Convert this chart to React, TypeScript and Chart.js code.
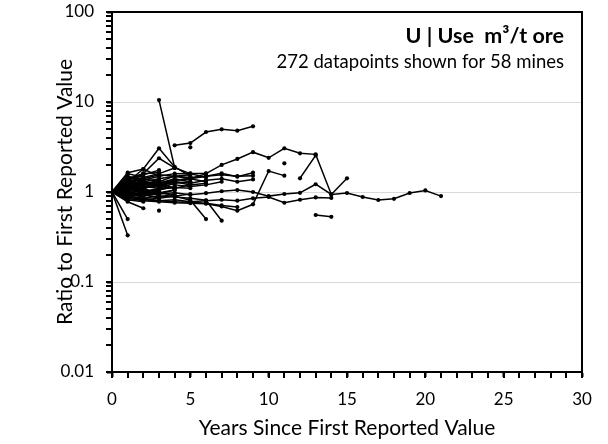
import React, { useEffect, useRef } from "react";
import { Chart, registerables } from "chart.js";

Chart.register(...registerables);

const FONT = "Lato, 'Open Sans', sans-serif";

// Ratio to first reported value, indexed by years since first report (null = not reported)
const mineLong = [1, 0.95, 0.92, 0.95, 0.98, 0.93, 0.97, 1.02, 1.05, 1.0, 0.9, 0.95, 0.98, 1.22, 0.94, 0.975, 0.88, 0.815, 0.84, 0.975, 1.04, 0.9];
const mineL2 = [1, 0.9, 0.85, 0.8, 0.82, 0.78, 0.8, 0.82, 0.8, 0.85, 0.88, 0.76, 0.82, 0.87, 0.86];
const mineU = [1, 1.2, 1.1, 1.3, 1.5, 1.4, 1.6, 2.0, 2.33, 2.77, 2.4, 3.06, 2.69, 2.62, 0.94, 1.42];
const mineV = [1, 1.1, 1.25, 1.2, 1.35, 1.4, 1.5, 1.61, 1.48, 1.64, null, null, 1.42, 2.55];
const mineW = [1, 0.85, 0.8, 0.78, 0.76, 0.75, 0.74, 0.69, 0.62, 0.73, 1.71, 1.52];
const mineK = [1, 0.88, 0.82, 0.8, 0.78, 0.77, 0.75, 0.71, 0.68];
const mineA = [1, 1.1, null, 10.5, 1.86, 1.6, 1.45];
const mineB = [1, 1.2, 1.6, null, 3.3, 3.5, 4.64, 4.97, 4.8, 5.37];
const mineC = [1, 1.3, 1.8, 3.06, 1.9, 1.5];
const mineD = [1, 1.4, 1.6, 2.37, 1.85];
const mineE = [1, 0.5];
const mineF = [1, 0.33];
const mineG = [1, 0.78, 0.66];
const mineH = [1, 1.05, null, 0.62];
const mineI = [1, 1.1, 0.95, 1.0, 0.9, 0.81, 0.5];
const mineJ = [1, 0.95, 1.05, 0.9, 0.88, 0.85, 0.81, 0.48];
const mineM = [1, 1.2, 1.3, 1.4, 1.5, 1.55, null, null, null, null, null, 2.08];
const mineX = [1, 0.9, 0.95, 0.85, null, null, null, null, null, null, null, null, null, 0.555, 0.53];
const mineN = [1, 1.35, 1.55, 1.75, null, 3.14];
const mine20 = [1, 1.64, 1.8, 1.5];
const mine21 = [1, 1.2, 1.35, 1.5, 1.6, 1.61, 1.61];
const mine22 = [1, 1.3, 1.1, 1.2];
const mine23 = [1, 1.05, 1.15, 1.1, 1.25, 1.3];
const mine24 = [1, 0.95, 1.1, 1.2];
const mine25 = [1, 1.15, 1.0, 0.95, 1.05];
const mine26 = [1, 1.25, 1.4, 1.3, 1.2, 1.15, 1.2, 1.3];
const mine27 = [1, 0.9, 1.0, 1.1];
const mine28 = [1, 1.1, 1.25];
const mine29 = [1, 1.0, 0.92, 0.88, 0.95];
const mine30 = [1, 1.35, 1.2, 1.25, 1.4, 1.3];
const mine31 = [1, 1.08, 1.12];
const mine32 = [1, 0.85, 0.9, 0.98, 1.05];
const mine33 = [1, 1.2, 1.05];
const mine34 = [1, 1.45, 1.3, 1.15];
const mine35 = [1, 0.92, 0.98];
const mine36 = [1, 1.05, 1.1, 1.2, 1.3, 1.25, 1.35, 1.4, 1.3, 1.38];
const mine37 = [1, 1.25, 1.4, 1.55, 1.5, 1.45, 1.5, 1.55, 1.5, 1.52];
const mine38 = [1, 0.8, 0.85, 0.9];
const mine39 = [1, 1.15, 1.3, 1.25, 1.1];
const mine40 = [1, 0.88, 0.95];
const mine41 = [1, 1.02, 1.08, 1.0];
const mine42 = [1, 1.5, 1.35];
const mine43 = [1, 1.1, 1.2, 1.15, 1.3, 1.2, 1.25];
const mine44 = [1, 0.97, 1.05];
const mine45 = [1, 1.18, 1.22, 1.35];
const mine46 = [1, 0.9, 0.82, 0.85, 0.9, 0.95];
const mine47 = [1, 1.05];
const mine48 = [1, 1.3, 1.45, 1.6, 1.85];
const mine49 = [1, 1.12, 1.05, 1.0];
const mine50 = [1, 0.95, 0.9];
const mine51 = [1, 1.22, 1.3, 1.15, 1.1, 1.2];
const mine52 = [1, 1.4, 1.6, 1.65];
const mine53 = [1, 1.0, 1.1, 1.25, 1.35, 1.4, 1.3];
const mine54 = [1, 0.82, 0.78];
const mine55 = [1, 1.1, 1.0, 1.05, 1.15];
const mine56 = [1, 1.6, 1.45];
const mine57 = [1, 0.93, 1.0, 1.08, 1.12, 1.1];
const mine58 = [1, 1.15, 1.1];

const mines = [
  mineLong, mineL2, mineU, mineV, mineW, mineK, mineA, mineB, mineC, mineD,
  mineE, mineF, mineG, mineH, mineI, mineJ, mineM, mineX, mineN, mine20,
  mine21, mine22, mine23, mine24, mine25, mine26, mine27, mine28, mine29, mine30,
  mine31, mine32, mine33, mine34, mine35, mine36, mine37, mine38, mine39, mine40,
  mine41, mine42, mine43, mine44, mine45, mine46, mine47, mine48, mine49, mine50,
  mine51, mine52, mine53, mine54, mine55, mine56, mine57, mine58,
];

const xLabels = [0, 5, 10, 15, 20, 25, 30];
const yDecades = [0.01, 0.1, 1, 10, 100];

const titleText = "U | Use  m³/t ore";
const subtitleText = "272 datapoints shown for 58 mines";
const xTitle = "Years Since First Reported Value";
const yTitle = "Ratio to First Reported Value";

const yMinorValues = (): number[] => {
  const out: number[] = [];
  for (const d of [0.01, 0.1, 1, 10]) {
    for (let m = 1; m <= 9; m++) out.push(+(m * d).toPrecision(3));
  }
  out.push(100);
  return out;
};

const annotPlugin = {
  id: "annot",
  afterDraw(chart: any) {
    const ctx = chart.ctx;
    const a = chart.chartArea;
    const xs = chart.scales.x;
    const ys = chart.scales.y;
    ctx.save();
    ctx.strokeStyle = "#000";
    ctx.fillStyle = "#000";
    ctx.lineWidth = 2;
    ctx.beginPath();
    ctx.moveTo(a.left, a.top);
    ctx.lineTo(a.right, a.top);
    ctx.lineTo(a.right, a.bottom);
    ctx.stroke();
    // minor / major tick marks, outside the axes
    for (let i = 0; i <= 30; i++) {
      const px = Math.round(xs.getPixelForValue(i));
      ctx.fillRect(px - 1, a.bottom, 2, 6);
    }
    for (const v of yMinorValues()) {
      const py = Math.round(ys.getPixelForValue(v));
      ctx.fillRect(a.left - 6, py - 1, 6, 2);
    }
    ctx.textAlign = "right";
    ctx.textBaseline = "alphabetic";
    ctx.font = `bold 21.5px ${FONT}`;
    ctx.fillText(titleText, 564, 43);
    ctx.font = `18.5px ${FONT}`;
    ctx.fillText(subtitleText, 564, 68);
    ctx.restore();
  },
};

export default function App() {
  const ref = useRef<HTMLCanvasElement>(null);
  useEffect(() => {
    if (!ref.current) return;
    const datasets = mines.map((vals) => ({
      data: vals.map((v, i) => ({ x: i, y: v })),
      borderColor: "#000",
      backgroundColor: "#000",
      borderWidth: 1.5,
      pointRadius: 2.1,
      pointHoverRadius: 2.1,
      pointBorderWidth: 0,
      tension: 0,
      spanGaps: false,
    }));
    const chart = new Chart(ref.current, {
      type: "line",
      data: { datasets: datasets as any },
      plugins: [annotPlugin],
      options: {
        animation: false,
        responsive: false,
        events: [],
        layout: { padding: { top: 12, right: 26, left: 0, bottom: 0 } },
        plugins: { legend: { display: false }, tooltip: { enabled: false } },
        scales: {
          x: {
            type: "linear",
            min: 0,
            max: 30,
            afterFit: (s: any) => {
              s.height = 72;
              s.paddingLeft = 0;
              s.paddingRight = 0;
            },
            afterBuildTicks: (s: any) => {
              s.ticks = xLabels.map((v) => ({ value: v }));
            },
            border: { display: true, color: "#000", width: 2 },
            grid: {
              drawOnChartArea: false,
              drawTicks: true,
              tickLength: 5,
              tickColor: "#000",
              tickWidth: 2,
            },
            ticks: {
              autoSkip: false,
              maxRotation: 0,
              padding: 12,
              color: "#000",
              font: { family: FONT, size: 17 },
              callback: (v: any) => String(v),
            },
            title: {
              display: true,
              text: xTitle,
              color: "#000",
              font: { family: FONT, size: 21 },
              padding: { top: 0, bottom: 3 },
            },
          },
          y: {
            type: "logarithmic",
            min: 0.01,
            max: 100,
            afterFit: (s: any) => {
              s.width = 112;
              s.paddingTop = 0;
              s.paddingBottom = 0;
            },
            afterBuildTicks: (s: any) => {
              s.ticks = yDecades.map((v) => ({ value: v }));
            },
            border: { display: true, color: "#000", width: 2 },
            grid: {
              drawOnChartArea: true,
              drawTicks: true,
              tickLength: 5,
              tickColor: "#000",
              tickWidth: 2,
              lineWidth: 1,
              color: "#d9d9d9",
            },
            ticks: {
              autoSkip: false,
              padding: 13,
              color: "#000",
              font: { family: FONT, size: 17 },
              callback: (v: any) => String(Number(v)),
            },
            title: {
              display: true,
              text: yTitle,
              color: "#000",
              font: { family: FONT, size: 21 },
              padding: { top: 53, bottom: 0 },
            },
          },
        },
      },
    });
    return () => chart.destroy();
  }, []);
  return (
    <div style={{ position: "fixed", left: 0, top: 0, width: 608, height: 444, background: "#fff" }}>
      <canvas ref={ref} width={608} height={444} style={{ display: "block" }} />
    </div>
  );
}
